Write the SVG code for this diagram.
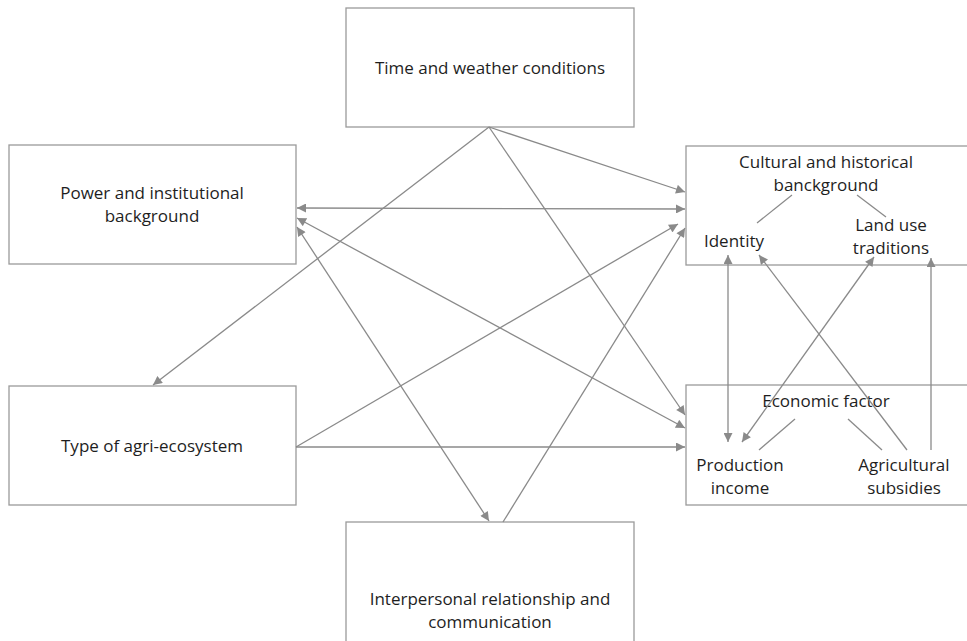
<svg xmlns="http://www.w3.org/2000/svg" width="967" height="641" viewBox="0 0 967 641">
<defs>
<marker id="ah" viewBox="0 0 10 10" refX="10" refY="5" markerWidth="10" markerHeight="9" markerUnits="userSpaceOnUse" orient="auto-start-reverse">
<path d="M0,0 L10,5 L0,10 z" fill="#8a8a8a"/>
</marker>
<style>
.box{fill:#fff;stroke:#9a9a9a;stroke-width:1.3}
.t{font-family:"Open Sans",Lato,"Liberation Sans",sans-serif;font-size:17px;fill:#1e1e1e;text-anchor:middle}
.c{stroke:#8a8a8a;stroke-width:1.3;fill:none}
.a{marker-end:url(#ah)}
.d{marker-start:url(#ah);marker-end:url(#ah)}
</style>
</defs>
<rect width="967" height="641" fill="#fff"/>
<g id="time"><rect class="box" x="346" y="8" width="288" height="119"/><text class="t" x="490" y="74">Time and weather conditions</text></g>
<g id="power"><rect class="box" x="9" y="145" width="287" height="119"/><text class="t" x="152" y="199">Power and institutional</text><text class="t" x="152" y="222">background</text></g>
<g id="cultural"><rect class="box" x="686" y="146" width="290" height="119"/><text class="t" x="826" y="168">Cultural and historical</text><text class="t" x="826" y="191">banckground</text></g>
<g id="identity"><text class="t" x="734" y="247">Identity</text></g>
<g id="landuse"><text class="t" x="891" y="231">Land use</text><text class="t" x="891" y="254">traditions</text></g>
<g id="type"><rect class="box" x="9" y="386" width="287" height="119"/><text class="t" x="152" y="452">Type of agri-ecosystem</text></g>
<g id="economic"><rect class="box" x="686" y="385" width="290" height="120"/><text class="t" x="826" y="407">Economic factor</text></g>
<g id="production"><text class="t" x="740" y="471">Production</text><text class="t" x="740" y="494">income</text></g>
<g id="subsidies"><text class="t" x="904" y="471">Agricultural</text><text class="t" x="904" y="494">subsidies</text></g>
<g id="interpersonal"><rect class="box" x="346" y="522" width="288" height="130"/><text class="t" x="490" y="605">Interpersonal relationship and</text><text class="t" x="490" y="628">communication</text></g>
<g id="connectors">
<line class="c a" x1="489" y1="127" x2="153" y2="385"/>
<line class="c a" x1="489" y1="127" x2="685" y2="192"/>
<line class="c a" x1="489" y1="127" x2="685" y2="415"/>
<line class="c d" x1="297" y1="208" x2="685" y2="209"/>
<line class="c d" x1="297" y1="218" x2="685" y2="428"/>
<line class="c d" x1="297" y1="227" x2="489" y2="521"/>
<line class="c a" x1="296" y1="447" x2="678" y2="224"/>
<line class="c a" x1="296" y1="447" x2="685" y2="447"/>
<line class="c a" x1="503" y1="522" x2="685" y2="228"/>
<line class="c d" x1="728" y1="255" x2="728" y2="442"/>
<line class="c a" x1="907" y1="450" x2="759" y2="255"/>
<line class="c d" x1="742" y1="442" x2="874" y2="257"/>
<line class="c a" x1="931" y1="450" x2="931" y2="258"/>
<line class="c" x1="792" y1="195" x2="757" y2="223"/>
<line class="c" x1="857" y1="195" x2="886" y2="217"/>
<line class="c" x1="795" y1="419" x2="759" y2="450"/>
<line class="c" x1="848" y1="419" x2="882" y2="450"/>
</g>
</svg>
